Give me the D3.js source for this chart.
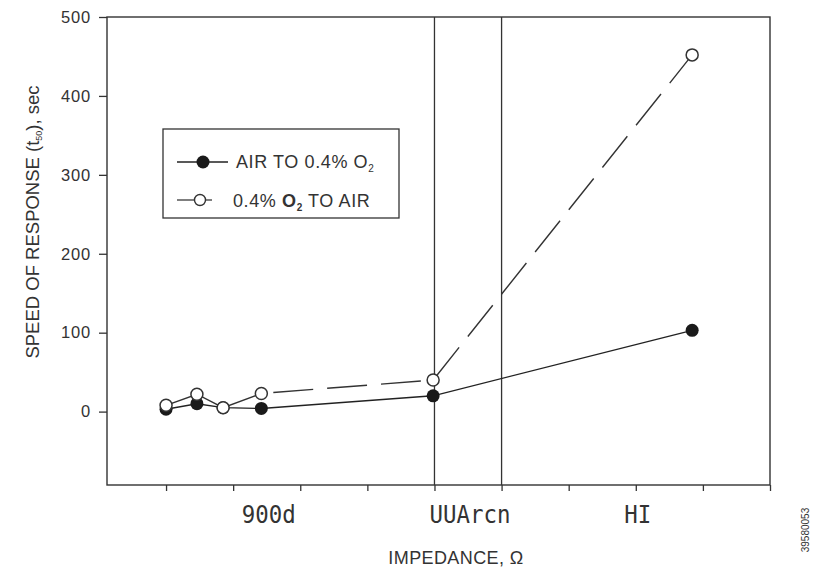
<!DOCTYPE html>
<html>
<head>
<meta charset="utf-8">
<script src="https://cdn.jsdelivr.net/npm/d3@7"></script>
<style>
  body { margin: 0; background: #fff; }
  text { font-family: "Liberation Sans", Arial, sans-serif; fill: #333; }
</style>
</head>
<body>
<svg></svg>
<script>
// data
const airX = [1.0, 1.46, 1.85, 2.42, 4.98, 8.84];
const airY = [3, 10, 5, 4, 20, 103];
const o2X = [1.0, 1.46, 1.85, 2.42, 4.98, 8.84];
const o2Y = [8, 22, 5, 23, 40, 452];
const yTicks = [0, 100, 200, 300, 400, 500];
const xTicks = [1, 2, 3, 4, 5, 6, 7, 8, 9, 10];
const xLabels = ["900d", "UUArcn", "HI"];
const xLabelAt = [2.53, 5.53, 8.03];
const regionLines = [5, 6];

const W = 813, H = 573;
const pL = 107, pR = 770, pT = 17, pB = 485;

const svg = d3.select('svg')
    .attr('width', W)
    .attr('height', H);

const x = d3.scaleLinear().domain([0.12, 10]).range([pL, pR]);
const y = d3.scaleLinear().domain([-93, 500]).range([pB, pT]);

// frame
svg.append('rect')
    .attr('x', pL).attr('y', pT)
    .attr('width', pR - pL).attr('height', pB - pT)
    .attr('fill', 'none')
    .attr('stroke', '#333')
    .attr('stroke-width', 1.4);

// axes
const yAxis = svg.append('g')
    .attr('transform', `translate(${pL},0)`)
    .call(d3.axisLeft(y).tickValues(yTicks).tickSize(8).tickPadding(8));
const xAxis = svg.append('g')
    .attr('transform', `translate(0,${pB})`)
    .call(d3.axisBottom(x).tickValues(xTicks).tickSize(6).tickFormat(''));
[xAxis, yAxis].forEach(g => {
    g.select('.domain').remove();
    g.selectAll('line').attr('stroke', '#333').attr('stroke-width', 1.3);
});
yAxis.selectAll('text')
    .attr('font-size', 16.5)
    .attr('letter-spacing', 0.8)
    .style('font-family', '"Liberation Sans", Arial, sans-serif')
    .attr('fill', '#333');

// region separators
svg.selectAll('.region')
    .data(regionLines)
    .join('line')
    .attr('x1', d => x(d)).attr('x2', d => x(d))
    .attr('y1', pT).attr('y2', pB)
    .attr('stroke', '#333')
    .attr('stroke-width', 1.3);

// region labels (segment-style font)
svg.selectAll('.xlab')
    .data(xLabels)
    .join('text')
    .attr('x', (d, i) => x(xLabelAt[i]))
    .attr('y', 523)
    .attr('text-anchor', 'middle')
    .attr('font-size', 25)
    .attr('textLength', d => d.length * 13.5)
    .attr('lengthAdjust', 'spacingAndGlyphs')
    .style('font-family', '"DejaVu Sans Mono", monospace')
    .attr('fill', '#555')
    .text(d => d);

// lines
const airPts = airX.map((d, i) => [d, airY[i]]);
const o2Pts = o2X.map((d, i) => [d, o2Y[i]]);
const line = d3.line().x(d => x(d[0])).y(d => y(d[1]));

svg.append('path')
    .datum(airPts)
    .attr('d', line)
    .attr('fill', 'none')
    .attr('stroke', '#222')
    .attr('stroke-width', 1.4);

const solidEnd = 3; // open series turns dashed after this point
svg.append('path')
    .datum(o2Pts.slice(0, solidEnd + 1))
    .attr('d', line)
    .attr('fill', 'none')
    .attr('stroke', '#333')
    .attr('stroke-width', 1.4);
svg.append('path')
    .datum(o2Pts.slice(solidEnd))
    .attr('d', line)
    .attr('fill', 'none')
    .attr('stroke', '#333')
    .attr('stroke-width', 1.4)
    .attr('stroke-dasharray', '40,14')
    .attr('stroke-dashoffset', -12);

// markers
svg.selectAll('.air')
    .data(airPts)
    .join('circle')
    .attr('cx', d => x(d[0])).attr('cy', d => y(d[1]))
    .attr('r', 6.5)
    .attr('fill', '#1a1a1a');
svg.selectAll('.o2')
    .data(o2Pts)
    .join('circle')
    .attr('cx', d => x(d[0])).attr('cy', d => y(d[1]))
    .attr('r', 6)
    .attr('fill', '#fff')
    .attr('stroke', '#333')
    .attr('stroke-width', 1.5);

// legend
const lg = svg.append('g');
lg.append('rect')
    .attr('x', 163).attr('y', 129)
    .attr('width', 236).attr('height', 89)
    .attr('fill', '#fff')
    .attr('stroke', '#333')
    .attr('stroke-width', 1.3);
lg.append('line')
    .attr('x1', 177).attr('x2', 228).attr('y1', 162).attr('y2', 162)
    .attr('stroke', '#222').attr('stroke-width', 1.4);
lg.append('circle')
    .attr('cx', 203).attr('cy', 162).attr('r', 6.5)
    .attr('fill', '#1a1a1a');
lg.append('line')
    .attr('x1', 177).attr('x2', 212).attr('y1', 200).attr('y2', 200)
    .attr('stroke', '#555').attr('stroke-width', 1.3);
lg.append('circle')
    .attr('cx', 200).attr('cy', 200).attr('r', 5.5)
    .attr('fill', '#fff').attr('stroke', '#333').attr('stroke-width', 1.4);

const t1 = lg.append('text').attr('x', 236).attr('y', 168)
    .attr('font-size', 18).attr('letter-spacing', 0.6);
t1.append('tspan').text('AIR TO 0.4% O');
t1.append('tspan').attr('font-size', 10).attr('dy', 4).text('2');

const t2 = lg.append('text').attr('x', 233).attr('y', 207)
    .attr('font-size', 18).attr('letter-spacing', 0.6);
t2.append('tspan').text('0.4% ');
t2.append('tspan').attr('font-weight', 'bold').text('O');
t2.append('tspan').attr('font-size', 10).attr('dy', 4).attr('font-weight', 'bold').text('2');
t2.append('tspan').attr('dy', -4).text(' TO AIR');

// axis titles
const yt = svg.append('text')
    .attr('transform', 'translate(39,222) rotate(-90)')
    .attr('text-anchor', 'middle')
    .attr('font-size', 18.5);
yt.append('tspan').text('SPEED OF RESPONSE (t');
yt.append('tspan').attr('font-size', 9).attr('dy', 3).text('50');
yt.append('tspan').attr('dy', -3).text('), sec');

svg.append('text')
    .attr('x', 456).attr('y', 564)
    .attr('text-anchor', 'middle')
    .attr('font-size', 18)
    .attr('letter-spacing', 0.4)
    .text('IMPEDANCE, Ω');

svg.append('text')
    .attr('transform', 'translate(809,530) rotate(-90)')
    .attr('text-anchor', 'middle')
    .attr('font-size', 10)
    .attr('fill', '#555')
    .text('39580053');
</script>
</body>
</html>
